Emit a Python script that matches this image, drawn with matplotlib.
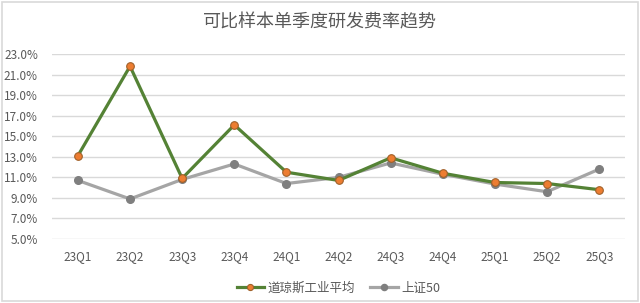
#!/usr/bin/env python3
# -*- coding: utf-8 -*-

import matplotlib
matplotlib.use("Agg")
import matplotlib.pyplot as plt
from matplotlib.ticker import FuncFormatter
from matplotlib.patches import Rectangle

plt.rcParams['font.family'] = ['Noto Sans CJK SC', 'DejaVu Sans']

quarters = ["23Q1", "23Q2", "23Q3", "23Q4", "24Q1", "24Q2",
            "24Q3", "24Q4", "25Q1", "25Q2", "25Q3"]
dow = [13.1, 21.8, 10.9, 16.1, 11.5, 10.7, 12.9, 11.4, 10.5, 10.4, 9.8]
sse50 = [10.7, 8.9, 10.8, 12.3, 10.4, 11.0, 12.4, 11.3, 10.35, 9.6, 11.8]
labels = ["道琼斯工业平均", "上证50"]

text_color = "#595959"

fig = plt.figure(figsize=(6.4, 3.03), dpi=100)
ax = fig.add_axes([0.081, 0.211, 0.896, 0.611])

x = range(len(quarters))
ax.plot(x, dow, color="#548235", lw=2.3, marker="o", ms=5.5,
        mfc="#ED7D31", mec="#A0612A", mew=0.8, label=labels[0], zorder=3)
ax.plot(x, sse50, color="#A5A5A5", lw=2.3, marker="o", ms=5.5,
        mfc="#7F7F7F", mec="#7F7F7F", label=labels[1], zorder=2)

ax.set_xlim(-0.5, len(quarters) - 0.5)
ax.set_ylim(5, 23)
ax.set_yticks([5 + 2 * i for i in range(10)])
ax.yaxis.set_major_formatter(FuncFormatter(lambda v, p: f"{v:.1f}%"))
ax.set_xticks(list(x))
ax.set_xticklabels(quarters)
ax.grid(axis="y", color="#D9D9D9", lw=1)
ax.set_axisbelow(True)
for s in ax.spines.values():
    s.set_visible(False)
ax.tick_params(length=0, colors=text_color, labelsize=8.5)
ax.tick_params(axis="x", pad=8)
ax.tick_params(axis="y", pad=10)

fig.text(0.5, 0.925, "可比样本单季度研发费率趋势", ha="center", va="center",
         fontsize=13, color=text_color)

ax.legend(loc="upper center", bbox_to_anchor=(0.5, -0.17), ncol=2,
          frameon=False, fontsize=9, labelcolor=text_color, markerscale=0.8,
          handlelength=2.2, columnspacing=1.2, handletextpad=0.3)

fig.patches.append(Rectangle((0.003, 0.005), 0.994, 0.99, transform=fig.transFigure,
                             fill=False, edgecolor="#D9D9D9", lw=1.2))

fig.savefig("out.png", dpi=100, facecolor="white")
